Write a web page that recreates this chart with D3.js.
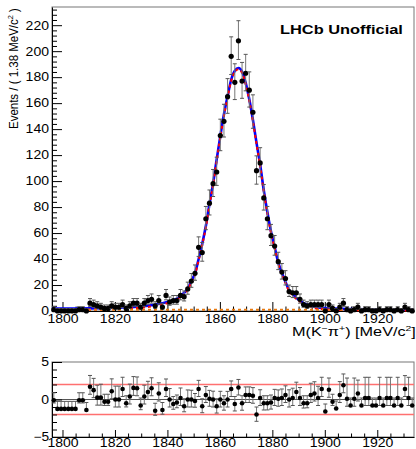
<!DOCTYPE html>
<html>
<head>
<meta charset="utf-8">
<script src="https://cdn.jsdelivr.net/npm/d3@7"></script>
<style>
  html, body { margin: 0; padding: 0; background: #fff; }
  svg { display: block; font-family: "Liberation Sans", Arial, Helvetica, sans-serif; }
</style>
</head>
<body>
<div id="chart"></div>
<script>
// binning: 100 bins of 1.38 MeV starting at 1796
const massLo = 1796;
const binWidth = 1.38;

// events per bin
const counts = [
  1, 0, 0, 0, 0, 0, 0, 1, 1, 0,
  6, 5, 4, 3, 2, 2, 4, 3, 3, 5,
  2, 4, 6, 6, 3, 6, 8, 9, 4, 8,
  3, 12, 7, 8, 8, 12, 11, 17, 23, 29,
  49, 45, 71, 83, 98, 107, 135, 146, 165, 196,
  176, 208, 177, 183, 170, 153, 108, 114, 87, 71,
  58, 50, 38, 30, 25, 15, 14, 14, 9, 5,
  4, 5, 5, 5, 5, 0, 5, 2, 0, 3,
  6, 1, 0, 1, 3, 0, 1, 1, 0, 0,
  1, 0, 1, 1, 0, 1, 0, 3, 1, 0
];

// pull per bin (lower pad)
const pulls = [
  -0.1, -1.25, -1.25, -1.25, -1.25, -1.25, -1.25, -0.1, -0.1, -1.4,
  1.7, 1.25, 0.25, 0.25, -0.3, -0.3, 1.1, 0, 0, 1.4,
  -0.5, 0.4, 1.55, 1.5, -0.8, 0.4, 1.0, 1.5, -1.5, 0.8,
  -1.4, 1.4, 0, -0.6, -0.4, 0.2, -0.9, 0, 0, -0.2,
  1.4, -0.9, 0.6, 0.1, 0, -0.9, 0, -0.5, 0, 1.4,
  -0.6, 1.6, -0.5, 0.6, 0.6, 0.5, -2.0, 0.2, -0.5, -0.5,
  -0.4, 0.2, 0.1, 0.2, 0.6, 0, 0.2, 1.0, 0.2, -0.5,
  -0.5, 0.6, 0.8, 0.2, 1.4, -1.6, 1.3, -0.3, -1.2, 0.6,
  1.9, 0.1, -0.8, 0.1, 0.8, -0.8, 0.2, 0.2, -0.8, -0.8,
  0.2, -0.8, 0.2, 0.2, -0.8, 0.2, -0.8, 1.4, 0.2, -0.8
];

// total fit curve, read at these masses
const fitMass = [1796, 1805, 1815, 1825, 1830, 1835, 1838, 1841, 1843.6, 1844.9,
  1846.3, 1847.7, 1849.1, 1850.5, 1851.9, 1853.3, 1854.7, 1856, 1857.4, 1858.8,
  1860.2, 1861.6, 1863, 1864.3, 1865.7, 1867.1, 1868.5, 1869.9, 1871.3, 1872.6,
  1874, 1875.4, 1876.8, 1878.2, 1879.5, 1880.9, 1882.3, 1883.7, 1885.1, 1886.4,
  1887.8, 1889.2, 1890.6, 1892, 1893.3, 1896, 1900, 1910, 1920, 1934];
const fitTotal = [1.8, 1.9, 2.2, 2.9, 3.5, 4.8, 6.0, 7.5, 9.5, 11.5,
  14, 17, 23, 29, 40, 52, 66, 82, 98, 117,
  135, 152, 166, 178, 185, 187, 184, 175, 162, 147,
  129, 112, 92, 75, 61, 49, 37, 29, 22, 16,
  13, 10, 8, 6, 5, 3.2, 2.2, 1.5, 1.3, 1.2];

// background component (orange dashed)
const bkgMass = [1796, 1934];
const bkgLevel = [1.0, 0.9];

const xTicks = [1800, 1820, 1840, 1860, 1880, 1900, 1920];
const yTicks = [0, 20, 40, 60, 80, 100, 120, 140, 160, 180, 200, 220];
const pullTicks = [-5, 0, 5];
const pullLines = [-2, 2];

// Poisson (Garwood-like) asymmetric errors
function poissonErr(n) {
  if (n === 0) return [0, 1.841];
  const lo = n * Math.pow(1 - 1 / (9 * n) - 1 / (3 * Math.sqrt(n)), 3);
  const m = n + 1;
  const hi = m * Math.pow(1 - 1 / (9 * m) + 1 / (3 * Math.sqrt(m)), 3);
  return [n - lo, hi - n];
}

const W = 416, H = 449;
const svg = d3.select("#chart").append("svg")
  .attr("width", W)
  .attr("height", H);

const x = d3.scaleLinear().domain([massLo, massLo + counts.length * binWidth]).range([52, 414]);
const y = d3.scaleLinear().domain([0, 234]).range([311, 7]);
const yPull = d3.scaleLinear().domain([-5, 5]).range([437, 362]);

const bins = counts.map((n, i) => ({
  m: massLo + binWidth * (i + 0.5),
  n: n,
  pull: pulls[i],
  err: poissonErr(n)
}));

// squeeze/stretch a tick label to the width seen in the picture
function styleLabels(g, size) {
  g.selectAll("text")
    .attr("font-size", size)
    .attr("fill", "#000")
    .attr("textLength", function () { return this.textContent.length * 7.8; })
    .attr("lengthAdjust", "spacingAndGlyphs");
}

function minorAxis(g) {
  g.select(".domain").remove();
  g.selectAll("line").attr("stroke", "#000");
}

// ---------- main pad ----------
const xMinor = d3.range(1800, 1935, 5).filter(v => v % 20 !== 0);
const yMinor = d3.range(0, 234, 4).filter(v => v % 20 !== 0);

// frame
svg.append("rect")
  .attr("x", 52).attr("y", 7)
  .attr("width", 362).attr("height", 304)
  .attr("fill", "none")
  .attr("stroke", "#777")
  .attr("stroke-width", 1);

svg.append("g")
  .attr("transform", "translate(0,311)")
  .call(d3.axisBottom(x).tickValues(xMinor).tickSize(-4.5).tickFormat(""))
  .call(minorAxis);

svg.append("g")
  .attr("transform", "translate(0,311)")
  .call(d3.axisBottom(x).tickValues(xTicks).tickSize(-9).tickSizeOuter(0).tickPadding(3).tickFormat(d3.format("d")))
  .call(g => g.select(".domain").attr("stroke", "#000"))
  .call(g => styleLabels(g, 12));

svg.append("g")
  .attr("transform", "translate(52,0)")
  .call(d3.axisLeft(y).tickValues(yMinor).tickSize(-5).tickFormat(""))
  .call(minorAxis);

svg.append("g")
  .attr("transform", "translate(52,0)")
  .call(d3.axisLeft(y).tickValues(yTicks).tickSize(-10).tickSizeOuter(0).tickPadding(3).tickFormat(d3.format("d")))
  .call(g => g.select(".domain").attr("stroke", "#000"))
  .call(g => styleLabels(g, 12));

// fit curves
const bkgScale = d3.scaleLinear().domain(bkgMass).range(bkgLevel);
const totalPts = fitMass.map((m, i) => [m, fitTotal[i]]);
const signalPts = fitMass.map((m, i) => [m, Math.max(0, fitTotal[i] - bkgScale(m))]);
const bkgPts = bkgMass.map((m, i) => [m, bkgLevel[i]]);

const line = d3.line()
  .x(d => x(d[0]))
  .y(d => y(d[1]))
  .curve(d3.curveMonotoneX);

svg.append("path")
  .attr("d", line(totalPts))
  .attr("fill", "none")
  .attr("stroke", "#0000ff")
  .attr("stroke-width", 2.6);

svg.append("path")
  .attr("d", line(signalPts))
  .attr("fill", "none")
  .attr("stroke", "#ff0000")
  .attr("stroke-width", 2)
  .attr("stroke-dasharray", "3,3");

svg.append("path")
  .attr("d", line(bkgPts))
  .attr("fill", "none")
  .attr("stroke", "#e87a10")
  .attr("stroke-width", 2)
  .attr("stroke-dasharray", "3,3");

// data points with error bars
const pts = svg.append("g").selectAll("g")
  .data(bins)
  .enter()
  .append("g");

pts.append("line")
  .attr("x1", d => x(d.m)).attr("x2", d => x(d.m))
  .attr("y1", d => y(d.n - d.err[0]))
  .attr("y2", d => y(d.n + d.err[1]))
  .attr("stroke", "#777")
  .attr("stroke-width", 1);

pts.append("line")
  .attr("x1", d => x(d.m) - 2).attr("x2", d => x(d.m) + 2)
  .attr("y1", d => y(d.n + d.err[1])).attr("y2", d => y(d.n + d.err[1]))
  .attr("stroke", "#555")
  .attr("stroke-width", 1);

pts.filter(d => d.n > 0).append("line")
  .attr("x1", d => x(d.m) - 2).attr("x2", d => x(d.m) + 2)
  .attr("y1", d => y(d.n - d.err[0])).attr("y2", d => y(d.n - d.err[0]))
  .attr("stroke", "#555")
  .attr("stroke-width", 1);

pts.append("circle")
  .attr("cx", d => x(d.m))
  .attr("cy", d => y(d.n))
  .attr("r", 2.6)
  .attr("fill", "#000");

// LHCb label
const lhcb = svg.append("text")
  .attr("font-size", 12)
  .attr("font-weight", "bold")
  .attr("fill", "#000")
  .text("LHCb Unofficial");
{
  const w = lhcb.node().getBBox().width;
  lhcb.attr("transform", `translate(280,34) scale(${123 / w},1)`);
}

// y axis title
const yTitle = svg.append("text")
  .attr("font-size", 12.5)
  .attr("fill", "#000");
yTitle.append("tspan").text("Events / ( 1.38 MeV/c");
yTitle.append("tspan").attr("font-size", 8).attr("dy", -5).text("2");
yTitle.append("tspan").attr("dy", 5).text(" )");
{
  const w = yTitle.node().getBBox().width;
  yTitle.attr("transform", `translate(18,129) rotate(-90) scale(${121 / w},1)`);
}

// x axis title
const xTitle = svg.append("text")
  .attr("font-size", 12.5)
  .attr("fill", "#000");
xTitle.append("tspan").text("M(K");
xTitle.append("tspan").attr("font-size", 8).attr("dy", -5).text("−");
xTitle.append("tspan").attr("dy", 5).text("π");
xTitle.append("tspan").attr("font-size", 8).attr("dy", -5).text("+");
xTitle.append("tspan").attr("dy", 5).text(") [MeV/c");
xTitle.append("tspan").attr("font-size", 8).attr("dy", -5).text("2");
xTitle.append("tspan").attr("dy", 5).text("]");
{
  const w = xTitle.node().getBBox().width;
  xTitle.attr("transform", `translate(292,336) scale(${124 / w},1)`);
}

// ---------- pull pad ----------
svg.append("rect")
  .attr("x", 52).attr("y", 362)
  .attr("width", 362).attr("height", 75)
  .attr("fill", "none")
  .attr("stroke", "#777")
  .attr("stroke-width", 1);

svg.append("g")
  .selectAll("line")
  .data(pullLines)
  .enter()
  .append("line")
  .attr("x1", 52).attr("x2", 414)
  .attr("y1", d => yPull(d)).attr("y2", d => yPull(d))
  .attr("stroke", "#ff7070")
  .attr("stroke-width", 1.5);

svg.append("line")
  .attr("x1", 52).attr("x2", 414)
  .attr("y1", yPull(0)).attr("y2", yPull(0))
  .attr("stroke", "#555")
  .attr("stroke-width", 1);

svg.append("g")
  .attr("transform", "translate(0,437)")
  .call(d3.axisBottom(x).tickValues(xMinor).tickSize(-3.5).tickFormat(""))
  .call(minorAxis);

svg.append("g")
  .attr("transform", "translate(0,437)")
  .call(d3.axisBottom(x).tickValues(xTicks).tickSize(-7).tickSizeOuter(0).tickPadding(1).tickFormat(d3.format("d")))
  .call(g => g.select(".domain").attr("stroke", "#000"))
  .call(g => styleLabels(g, 12));

svg.append("g")
  .attr("transform", "translate(52,0)")
  .call(d3.axisLeft(yPull).tickValues(d3.range(-5, 6, 1).filter(v => v % 5 !== 0)).tickSize(-5).tickFormat(""))
  .call(minorAxis);

svg.append("g")
  .attr("transform", "translate(52,0)")
  .call(d3.axisLeft(yPull).tickValues(pullTicks).tickSize(-10).tickSizeOuter(0).tickPadding(3))
  .call(g => g.select(".domain").attr("stroke", "#000"))
  .call(g => styleLabels(g, 12));

// pull error bars: one side is 1, the other the ratio of Poisson errors
const pp = svg.append("g").selectAll("g")
  .data(bins)
  .enter()
  .append("g");

function pullRange(d) {
  const lo = d.err[0], hi = d.err[1];
  if (d.pull >= 0 && lo > 0) return [d.pull - 1, d.pull + hi / lo];
  return [d.pull - lo / hi, d.pull + 1];
}

pp.append("line")
  .attr("x1", d => x(d.m)).attr("x2", d => x(d.m))
  .attr("y1", d => yPull(pullRange(d)[0]))
  .attr("y2", d => yPull(pullRange(d)[1]))
  .attr("stroke", "#777")
  .attr("stroke-width", 1);

pp.append("line")
  .attr("x1", d => x(d.m) - 2).attr("x2", d => x(d.m) + 2)
  .attr("y1", d => yPull(pullRange(d)[1])).attr("y2", d => yPull(pullRange(d)[1]))
  .attr("stroke", "#555");

pp.filter(d => d.n > 0).append("line")
  .attr("x1", d => x(d.m) - 2).attr("x2", d => x(d.m) + 2)
  .attr("y1", d => yPull(pullRange(d)[0])).attr("y2", d => yPull(pullRange(d)[0]))
  .attr("stroke", "#555");

pp.append("circle")
  .attr("cx", d => x(d.m))
  .attr("cy", d => yPull(d.pull))
  .attr("r", 2.3)
  .attr("fill", "#000");
</script>
</body>
</html>
